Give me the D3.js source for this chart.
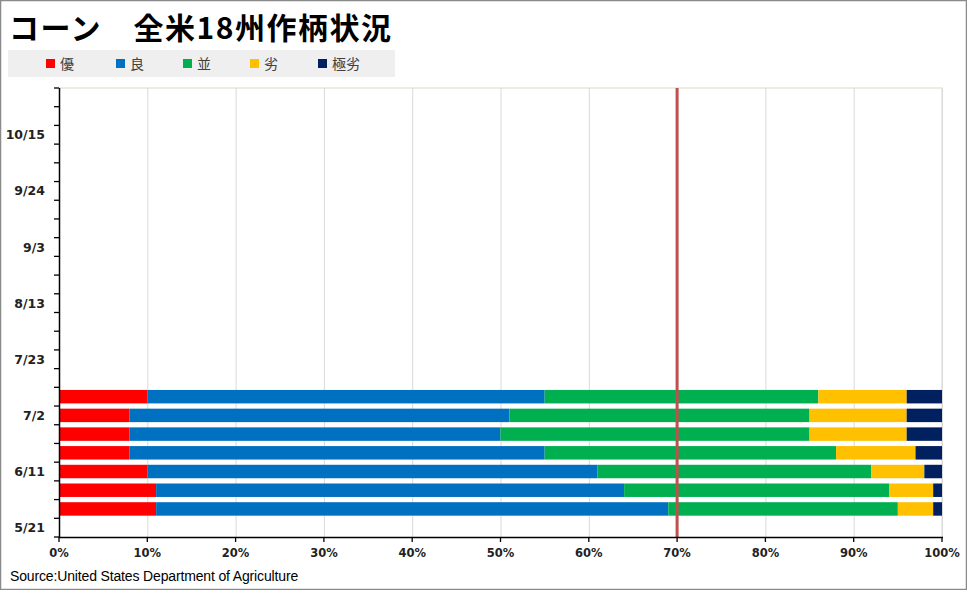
<!DOCTYPE html>
<html><head><meta charset="utf-8">
<script src="https://cdn.jsdelivr.net/npm/d3@7"></script>
<style>
html,body{margin:0;padding:0;background:#fff;}
svg{display:block;}
</style>
</head><body>
<svg id="chart" width="967" height="590"></svg>
<script>
// ---- data ----
const allWeeks = ["5/21","5/28","6/4","6/11","6/18","6/25","7/2","7/9","7/16","7/23","7/30","8/6","8/13","8/20","8/27","9/3","9/10","9/17","9/24","10/1","10/8","10/15","10/22","10/29"];
const tickLabels = ["5/21","6/11","7/2","7/23","8/13","9/3","9/24","10/15"];
const dataWeeks = ["5/28","6/4","6/11","6/18","6/25","7/2","7/9"];
const excellent = [11,11,10,8,8,8,10];
const good      = [58,53,51,47,42,43,45];
const fair      = [26,30,31,33,35,34,31];
const poor      = [4,5,6,9,11,11,10];
const veryPoor  = [1,1,2,3,4,4,4];
const seriesNames = ["優","良","並","劣","極劣"];
const seriesColors = ["#ff0000","#0070c0","#00b050","#ffc000","#002060"];
const xTicks = [0,10,20,30,40,50,60,70,80,90,100];
const refLine = 70;
const titleText = "コーン　全米18州作柄状況";
const sourceText = "Source:United States Department of Agriculture";

// ---- layout ----
const svg = d3.select("#chart");
const W = 967, H = 590;
const plot = {left:59, right:942, top:88, bottom:537};
const jp = "'Noto Sans CJK JP','Noto Sans',sans-serif";

svg.append("rect").attr("x",0.5).attr("y",0.5).attr("width",W-1).attr("height",H-1)
  .attr("fill","#fff").attr("stroke","#8a8a8a").attr("stroke-width",1.5);

// title
svg.append("text").attr("x",9).attr("y",39).text(titleText)
  .attr("font-family",jp).attr("font-weight","bold").attr("font-size",30)
  .attr("letter-spacing",1.5).attr("fill","#000");

// legend
svg.append("rect").attr("x",8).attr("y",50).attr("width",387).attr("height",27).attr("fill","#efefef");
const legendX = [46,116,183,250,318];
seriesNames.forEach((n,i)=>{
  svg.append("rect").attr("x",legendX[i]).attr("y",59).attr("width",9).attr("height",9).attr("fill",seriesColors[i]);
  svg.append("text").attr("x",legendX[i]+14).attr("y",68.5).text(n)
    .attr("font-family",jp).attr("font-size",14).attr("fill","#404040");
});

// scales
const x = d3.scaleLinear().domain([0,100]).range([plot.left,plot.right]);
const yStep = d3.scaleBand().domain(allWeeks).range([plot.bottom,plot.top]).padding(0);
const yBar = d3.scaleBand().domain(allWeeks).range([plot.bottom,plot.top]).paddingInner(0.28).paddingOuter(0.14);

// plot area border (top/right)
svg.append("path")
  .attr("d",`M${plot.left},${plot.top}H${plot.right}V${plot.bottom}`)
  .attr("fill","none").attr("stroke","#e6e6d6").attr("stroke-width",1.5);

// gridlines
svg.append("g").selectAll("line").data(xTicks.filter(d=>d>0)).join("line")
  .attr("x1",d=>x(d)+0.5).attr("x2",d=>x(d)+0.5)
  .attr("y1",plot.top).attr("y2",plot.bottom)
  .attr("stroke","#d9d9d9").attr("stroke-width",1);

// stacked bars
const rows = dataWeeks.map((w,i)=>({week:w, v:[excellent[i],good[i],fair[i],poor[i],veryPoor[i]]}));
const gBars = svg.append("g");
rows.forEach(r=>{
  let acc = 0;
  r.v.forEach((val,k)=>{
    gBars.append("rect")
      .attr("x",x(acc)).attr("width",x(acc+val)-x(acc))
      .attr("y",yBar(r.week)).attr("height",yBar.bandwidth())
      .attr("fill",seriesColors[k]);
    acc += val;
  });
});

// reference line
svg.append("line").attr("x1",x(refLine)).attr("x2",x(refLine))
  .attr("y1",plot.top).attr("y2",plot.bottom)
  .attr("stroke","#c0504d").attr("stroke-width",3);

// y axis
const yAxisG = svg.append("g");
yAxisG.append("line").attr("x1",plot.left+0.5).attr("x2",plot.left+0.5)
  .attr("y1",plot.top).attr("y2",plot.bottom+1).attr("stroke","#000").attr("stroke-width",1.5);
const boundaries = allWeeks.map(w=>yStep(w)+yStep.bandwidth()).concat([plot.top]);
yAxisG.selectAll("line.t").data(boundaries).join("line").attr("class","t")
  .attr("x1",plot.left-5).attr("x2",plot.left)
  .attr("y1",d=>d).attr("y2",d=>d).attr("stroke","#000").attr("stroke-width",1.3);
yAxisG.selectAll("text").data(tickLabels).join("text")
  .attr("x",45).attr("y",d=>yStep(d)+yStep.bandwidth()/2)
  .attr("dy","0.36em").attr("text-anchor","end")
  .attr("font-family","'DejaVu Sans',sans-serif").attr("font-weight","bold").attr("font-size",12.5)
  .attr("fill","#222").text(d=>d);

// x axis
const xAxisG = svg.append("g").attr("transform",`translate(0,${plot.bottom})`);
xAxisG.append("line").attr("x1",plot.left).attr("x2",plot.right+1).attr("y1",0.5).attr("y2",0.5)
  .attr("stroke","#000").attr("stroke-width",1.5);
xAxisG.selectAll("line.t").data(xTicks).join("line").attr("class","t")
  .attr("x1",d=>x(d)).attr("x2",d=>x(d)).attr("y1",0).attr("y2",5)
  .attr("stroke","#000").attr("stroke-width",1.3);
xAxisG.selectAll("text").data(xTicks).join("text")
  .attr("x",d=>x(d)).attr("y",20).attr("text-anchor","middle")
  .attr("font-family","'DejaVu Sans',sans-serif").attr("font-weight","bold").attr("font-size",11.5)
  .attr("fill","#222").text(d=>d+"%");

// source
svg.append("text").attr("x",10).attr("y",581).text(sourceText)
  .attr("font-family","'Liberation Sans',sans-serif").attr("font-size",14).attr("letter-spacing",-0.15)
  .attr("fill","#000");
</script>
</body></html>
